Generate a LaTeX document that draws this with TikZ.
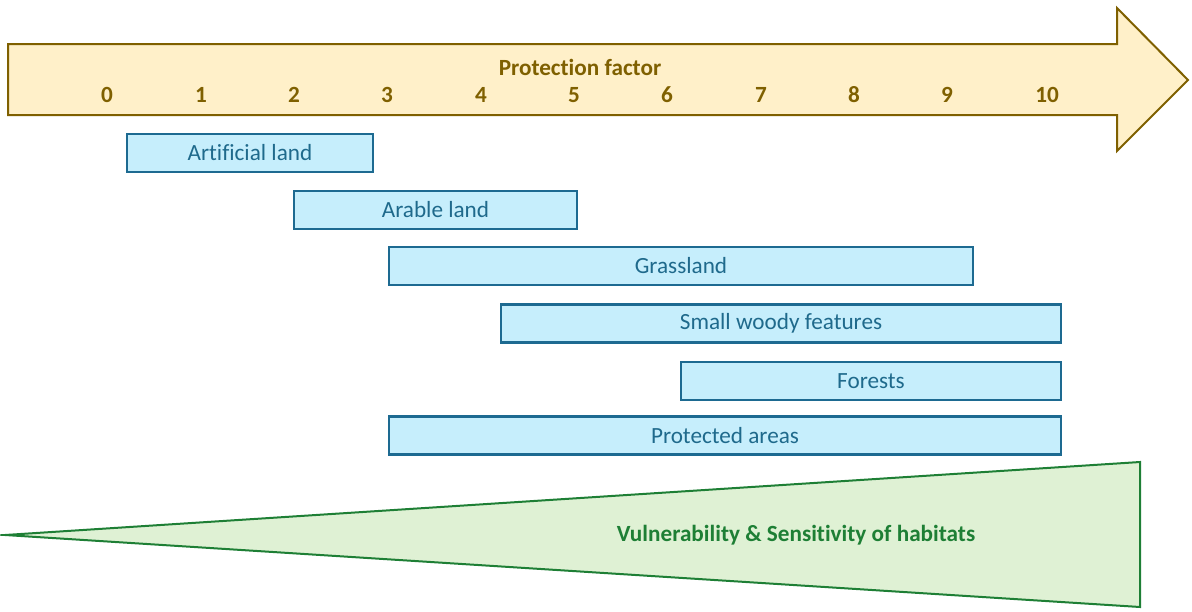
\documentclass[tikz,border=0pt]{standalone}
\usepackage{fontspec}
\setmainfont{Carlito}[Ligatures=NoCommon]
\definecolor{arrowfill}{HTML}{FFF0C9}
\definecolor{arrowline}{HTML}{7F6000}
\definecolor{barfill}{HTML}{C6EEFC}
\definecolor{barline}{HTML}{1D6A91}
\definecolor{bartext}{HTML}{1F6A8C}
\definecolor{wedgefill}{HTML}{DFF1D4}
\definecolor{wedgeline}{HTML}{1E7F35}
\begin{document}
\begin{tikzpicture}[x=1pt,y=-1pt,
  bar/.style={draw=barline, fill=barfill, line width=2.6pt, rectangle,
    minimum height=38pt, inner sep=0pt, text=bartext,
    font=\fontsize{23.2}{26}\selectfont},
  tick/.style={text=arrowline, font=\fontsize{23.2}{26}\selectfont\bfseries, inner sep=0pt},
]
\useasboundingbox (0,0) rectangle (1192,611);

% protection factor arrow
\draw[draw=arrowline, fill=arrowfill, line width=2pt, line join=miter]
  (8,44) -- (1117,44) -- (1117,8) -- (1188,80) -- (1117,151) -- (1117,115) -- (8,115) -- cycle;
\node[tick] (title) at (580,67) {Protection factor};
\foreach \v/\x in {0/107,1/201,2/294,3/387,4/481,5/574,6/667,7/761,8/854,9/947,10/1047}
  \node[tick] (n\v) at (\x,95) {\v};

% land cover bars
\node[bar, minimum width=246pt] (artificial) at (250,153) {Artificial land};
\node[bar, minimum width=283pt] (arable) at (435.5,210) {Arable land};
\node[bar, minimum width=584pt] (grass) at (681,266) {Grassland};
\node[bar, minimum width=560pt] (woody) at (781,323.5) {Small woody features};
\node[bar, minimum width=380pt] (forest) at (871,381) {Forests};
\node[bar, minimum width=672pt] (protected) at (725,435.5) {Protected areas};

% vulnerability wedge
\draw[draw=wedgeline, fill=wedgefill, line width=2pt, line join=miter, miter limit=40]
  (5,535) -- (1140,462) -- (1140,607) -- cycle;
\node[text=wedgeline, font=\fontsize{23.2}{26}\selectfont\bfseries, inner sep=0pt]
  (vuln) at (796,535) {Vulnerability \& Sensitivity of habitats};
\end{tikzpicture}
\end{document}
